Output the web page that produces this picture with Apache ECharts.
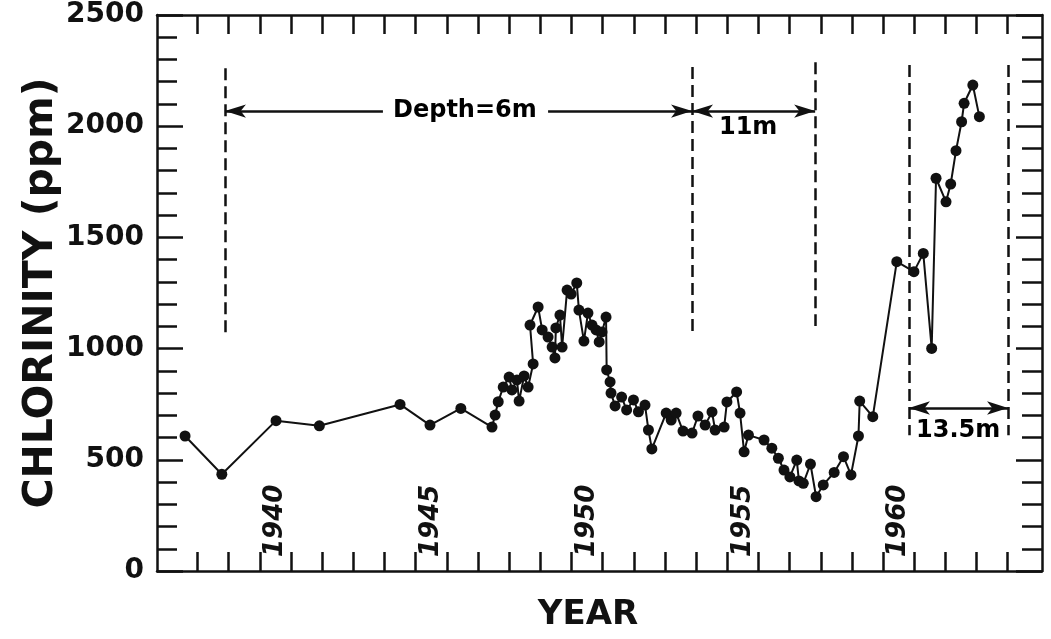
<!DOCTYPE html>
<html><head><meta charset="utf-8">
<script src="https://cdn.jsdelivr.net/npm/echarts@6/dist/echarts.min.js"></script>
<style>html,body{margin:0;padding:0;background:#fff}#c{width:1051px;height:639px}</style>
</head><body><div id="c"></div>
<script>
// ---- data ----
const years = [1937.60, 1938.78, 1940.52, 1941.91, 1944.50, 1945.46, 1946.45, 1947.45, 1947.55, 1947.65,
  1947.81, 1948.00, 1948.09, 1948.25, 1948.32, 1948.48, 1948.61, 1948.77, 1948.67, 1948.93,
  1949.06, 1949.25, 1949.38, 1949.47, 1949.50, 1949.63, 1949.70, 1949.86, 1949.99, 1950.17,
  1950.24, 1950.40, 1950.53, 1950.66, 1950.79, 1950.89, 1950.98, 1951.11, 1951.13, 1951.24,
  1951.27, 1951.40, 1951.61, 1951.77, 1951.99, 1952.15, 1952.36, 1952.47, 1952.58, 1953.04,
  1953.20, 1953.36, 1953.58, 1953.87, 1954.06, 1954.29, 1954.51, 1954.61, 1954.90, 1954.99,
  1955.30, 1955.41, 1955.54, 1955.68, 1956.18, 1956.43, 1956.64, 1956.82, 1957.01, 1957.23,
  1957.30, 1957.44, 1957.67, 1957.85, 1958.08, 1958.43, 1958.73, 1958.97, 1959.21, 1959.25,
  1959.67, 1960.44, 1960.99, 1961.29, 1961.56, 1961.70, 1962.02, 1962.17, 1962.34, 1962.52,
  1962.60, 1962.88, 1963.09];
const chlorinity = [607, 435, 676, 653, 749, 656, 731, 647, 701, 761,
  827, 872, 814, 859, 764, 877, 827, 931, 1106, 1187,
  1084, 1052, 1007, 958, 1093, 1151, 1007, 1263, 1245, 1295,
  1173, 1034, 1160, 1106, 1084, 1030, 1075, 1142, 904, 850,
  800, 742, 782, 724, 769, 716, 746, 634, 549, 710,
  679, 710, 629, 620, 697, 656, 715, 634, 647, 760,
  805, 710, 536, 611, 589, 552, 507, 454, 423, 499,
  405, 394, 481, 334, 387, 443, 514, 432, 607, 764,
  694, 1391, 1346, 1428, 1001, 1766, 1660, 1740, 1890, 2020,
  2103, 2185, 2043];

const yearTicks = [1938,1939,1940,1941,1942,1943,1944,1945,1946,1947,1948,1949,1950,1951,
  1952,1953,1954,1955,1956,1957,1958,1959,1960,1961,1962,1963,1964];
const yearLabelValues = [1940.5, 1945.5, 1950.5, 1955.5, 1960.5];
const yearLabelText = ['1940', '1945', '1950', '1955', '1960'];
const yTickValues = [0, 500, 1000, 1500, 2000, 2500];
const yTickLabels = ['0', '500', '1000', '1500', '2000', '2500'];

// depth-zone boundaries (year) and their vertical extent (ppm)
const boundaryYears = [1938.88, 1953.87, 1957.82, 1960.83, 1964.01];
const boundaryTop = [2261, 2266, 2288, 2275, 2275];
const boundaryBottom = [1070, 1070, 1102, 610, 610];

// depth annotations
const depthText = ['Depth=6m', '11m', '13.5m'];
const depthTextYear = [1946.58, 1955.67, 1962.41];
const depthTextValue = [2068, 1992, 629];
const arrowLevel = [2068, 2068, 733];
const sixGap = [1943.95, 1949.25];

// ---- build ----
const FONT = 'DejaVu Sans';
const INK = '#111';
const pts = years.map((y, i) => [y, chlorinity[i]]);

const dashLines = boundaryYears.map((x, i) => [
  { coord: [x, boundaryTop[i]] }, { coord: [x, boundaryBottom[i]] }
]);

const AS = [10, 21];
const arrows = [
  [{ coord: [boundaryYears[0], arrowLevel[0]], symbol: 'arrow', symbolSize: AS },
   { coord: [sixGap[0], arrowLevel[0]], symbol: 'none' }],
  [{ coord: [sixGap[1], arrowLevel[0]], symbol: 'none' },
   { coord: [boundaryYears[1], arrowLevel[0]], symbol: 'arrow', symbolSize: AS }],
  [{ coord: [boundaryYears[1], arrowLevel[1]], symbol: 'arrow', symbolSize: AS },
   { coord: [boundaryYears[2], arrowLevel[1]], symbol: 'arrow', symbolSize: AS }],
  [{ coord: [boundaryYears[3], arrowLevel[2]], symbol: 'arrow', symbolSize: AS },
   { coord: [boundaryYears[4], arrowLevel[2]], symbol: 'arrow', symbolSize: AS }]
];

const textPts = depthText.map((t, i) => [depthTextYear[i], depthTextValue[i], t]);

const xCommon = {
  type: 'value', min: 1936.7, max: 1965.1,
  splitLine: { show: false },
  axisLine: { show: true, onZero: false, lineStyle: { color: INK, width: 2.5 } },
  axisTick: { show: true, inside: true, length: 19, customValues: yearTicks, lineStyle: { color: INK, width: 2.5 } }
};
const yCommon = {
  type: 'value', min: 0, max: 2500, interval: 500,
  splitLine: { show: false },
  axisLine: { show: true, onZero: false, lineStyle: { color: INK, width: 2.5 } },
  axisTick: { show: true, inside: true, length: 26, lineStyle: { color: INK, width: 2.5 } },
  minorTick: { show: true, splitNumber: 5, length: 20, lineStyle: { color: INK, width: 2.5 } },
  minorSplitLine: { show: false }
};

const option = {
  animation: false,
  backgroundColor: '#fff',
  grid: { left: 157, right: 9, top: 15, bottom: 68, containLabel: false },
  xAxis: [
    Object.assign({}, xCommon, {
      position: 'bottom',
      name: 'YEAR', nameLocation: 'middle', nameGap: 27, nameMoveOverlap: false,
      nameTextStyle: { fontFamily: FONT, fontWeight: 'bold', fontSize: 34, color: INK, padding: [0, 23, 0, 0] },
      axisLabel: {
        show: true, inside: true, rotate: 90, margin: 14,
        customValues: yearLabelValues,
        formatter: (v) => { const k = yearLabelValues.indexOf(v); return k >= 0 ? yearLabelText[k] : ''; },
        fontFamily: FONT, fontWeight: 'bold', fontStyle: 'italic', fontSize: 26, color: INK
      }
    }),
    Object.assign({}, xCommon, { position: 'top', axisLabel: { show: false } })
  ],
  yAxis: [
    Object.assign({}, yCommon, {
      position: 'left',
      name: 'CHLORINITY (ppm)', nameLocation: 'middle', nameGap: 95, nameRotate: 90, nameMoveOverlap: false,
      nameTextStyle: { fontFamily: FONT, fontWeight: 'bold', fontSize: 41, color: INK },
      axisLabel: {
        show: true, margin: 13, fontFamily: FONT, fontWeight: 'bold', fontSize: 28, color: INK,
        formatter: (v) => { const k = yTickValues.indexOf(v); return k >= 0 ? yTickLabels[k] : ''; }
      }
    }),
    Object.assign({}, yCommon, { position: 'right', axisLabel: { show: false } })
  ],
  series: [
    {
      type: 'line', data: pts, xAxisIndex: 0, yAxisIndex: 0,
      symbol: 'circle', symbolSize: 11, showAllSymbol: true,
      lineStyle: { color: INK, width: 2 }, itemStyle: { color: INK },
      z: 5,
      markLine: {
        silent: true, animation: false, symbol: 'none',
        label: { show: false },
        lineStyle: { color: INK, width: 2.5, type: [12, 6] },
        data: dashLines
      }
    },
    {
      type: 'line', data: [], xAxisIndex: 0, yAxisIndex: 0,
      markLine: {
        silent: true, animation: false,
        label: { show: false },
        lineStyle: { color: INK, width: 2.5, type: 'solid' },
        itemStyle: { color: INK },
        data: arrows
      }
    },
    {
      type: 'scatter', data: textPts, xAxisIndex: 0, yAxisIndex: 0,
      symbolSize: 1, itemStyle: { color: '#fff', opacity: 1 }, silent: true, z: 10,
      label: {
        show: true, position: 'inside', formatter: (p) => p.data[2],
        fontFamily: FONT, fontWeight: 'bold', fontSize: 24, color: '#000', opacity: 1,
        textBorderWidth: 0
      }
    }
  ]
};
const chart = echarts.init(document.getElementById('c'), null, { renderer: 'canvas' });
chart.setOption(option);
</script>
</body></html>
